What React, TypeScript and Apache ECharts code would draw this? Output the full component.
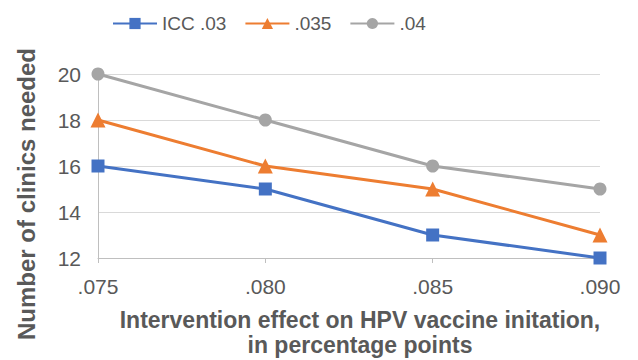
import React, { useEffect, useRef } from "react";
import * as echarts from "echarts";

const categories = [".075", ".080", ".085", ".090"];
const icc03 = [16, 15, 13, 12];
const icc035 = [18, 16, 15, 13];
const icc04 = [20, 18, 16, 15];
const seriesNames = ["ICC .03", ".035", ".04"];
const xTitle = "Intervention effect on HPV vaccine initation,\nin percentage points";
const yTitle = "Number of clinics needed";

export default function App() {
  const ref = useRef<HTMLDivElement>(null);
  useEffect(() => {
    const chart = echarts.init(ref.current!, undefined, { renderer: "svg" });
    const font = "Liberation Sans, Arial, sans-serif";
    const mk = (name: string, data: number[], color: string, symbol: string, size: number) => ({
      name,
      type: "line",
      data,
      symbol,
      symbolSize: size,
      lineStyle: { color, width: 3 },
      itemStyle: { color },
    });
    chart.setOption({
      animation: false,
      backgroundColor: "#ffffff",
      textStyle: { fontFamily: font },
      legend: {
        top: 9,
        left: 107,
        itemWidth: 44,
        itemHeight: 14,
        itemGap: 18,
        textStyle: { color: "#595959", fontSize: 19, fontFamily: font },
        data: seriesNames,
      },
      grid: { left: 98, right: 38, top: 74, bottom: 102, outerBoundsMode: "none", containLabel: false },
      graphic: [
        {
          type: "text",
          x: 360,
          y: 332,
          style: {
            text: xTitle,
            fill: "#595959",
            fontSize: 23,
            fontWeight: "bold",
            fontFamily: font,
            lineHeight: 25,
            align: "center",
            verticalAlign: "middle",
          },
        },
        {
          type: "text",
          x: 26,
          y: 194,
          rotation: Math.PI / 2,
          style: {
            text: yTitle,
            fill: "#595959",
            fontSize: 24,
            fontWeight: "bold",
            fontFamily: font,
            align: "center",
            verticalAlign: "middle",
          },
        },
      ],
      xAxis: {
        type: "category",
        data: categories,
        boundaryGap: false,
        axisLine: { show: true, lineStyle: { color: "#bfbfbf", width: 1 } },
        axisTick: { show: true, alignWithLabel: true, length: 5, lineStyle: { color: "#bfbfbf" } },
        axisLabel: { color: "#595959", fontSize: 21, margin: 18, fontFamily: font },
      },
      yAxis: {
        type: "value",
        min: 12,
        max: 20,
        interval: 2,
        axisLine: { show: true, lineStyle: { color: "#bfbfbf", width: 1 } },
        axisTick: { show: false },
        splitLine: { lineStyle: { color: "#d9d9d9", width: 1 } },
        axisLabel: { color: "#595959", fontSize: 21, margin: 17, fontFamily: font },
      },
      series: [
        mk(seriesNames[0], icc03, "#4472C4", "rect", 13),
        mk(seriesNames[1], icc035, "#ED7D31", "triangle", 15),
        mk(seriesNames[2], icc04, "#A5A5A5", "circle", 13),
      ],
    });
    return () => chart.dispose();
  }, []);
  return <div ref={ref} style={{ width: 638, height: 360, position: "absolute", left: 0, top: 0 }} />;
}
